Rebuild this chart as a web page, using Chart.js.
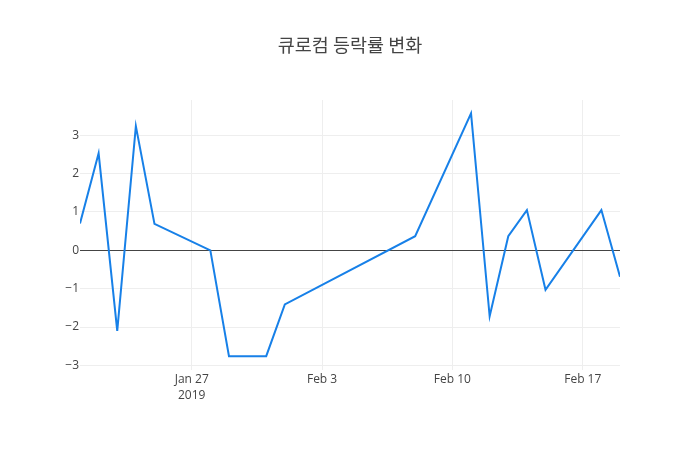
<!DOCTYPE html>
<html>
<head>
<meta charset="utf-8">
<script src="https://cdn.jsdelivr.net/npm/chart.js@4/dist/chart.umd.min.js"></script>
<style>
html,body{margin:0;padding:0;background:#fff;}
#wrap{width:700px;height:450px;position:relative;}
</style>
</head>
<body>
<div id="wrap"><canvas id="c" width="700" height="450"></canvas></div>
<script>
const titleText = '큐로컴 등락률 변화';
const dates = ['2019-01-21','2019-01-22','2019-01-23','2019-01-24','2019-01-25','2019-01-28','2019-01-29','2019-01-31','2019-02-01','2019-02-08','2019-02-11','2019-02-12','2019-02-13','2019-02-14','2019-02-15','2019-02-18','2019-02-19'];
const changes = [0.70, 2.53, -2.10, 3.24, 0.69, 0.00, -2.76, -2.76, -1.41, 0.37, 3.57, -1.72, 0.37, 1.05, -1.03, 1.05, -0.69];
const xTickDates = ['2019-01-27','2019-02-03','2019-02-10','2019-02-17'];
const xTickLabels = [['Jan 27','2019'],['Feb 3'],['Feb 10'],['Feb 17']];
const yTicks = [-3,-2,-1,0,1,2,3];
const yRange = [-3.12, 3.92];

const DAY = 86400000;
const base = Date.parse(dates[0] + 'T00:00:00Z');
const toDay = s => (Date.parse(s + 'T00:00:00Z') - base) / DAY;
const pts = dates.map((d,i) => ({x: toDay(d), y: changes[i]}));
const xTickVals = xTickDates.map(toDay);
const xMin = 0, xMax = toDay(dates[dates.length-1]);

const FONT = "'Open Sans', 'Noto Sans', sans-serif";

new Chart(document.getElementById('c'), {
  type: 'line',
  data: {
    datasets: [{
      data: pts,
      borderColor: 'rgb(23,128,232)',
      borderWidth: 2,
      pointRadius: 0,
      tension: 0,
      fill: false
    }]
  },
  options: {
    responsive: false,
    animation: false,
    layout: {padding: 0},
    plugins: {
      legend: {display: false},
      tooltip: {enabled: false},
      title: {
        display: true,
        text: titleText,
        color: '#444',
        font: {family: "'Noto Sans CJK KR', " + FONT, size: 18.5, weight: 'normal', lineHeight: 1.2},
        padding: {top: 34, bottom: 43.8}
      }
    },
    scales: {
      x: {
        type: 'linear',
        min: xMin,
        max: xMax,
        afterBuildTicks: s => { s.ticks = xTickVals.map(v => ({value: v})); },
        afterFit: s => { s.height = 80; },
        grid: {color: '#eee', lineWidth: 1, drawTicks: false},
        border: {display: false},
        ticks: {
          autoSkip: false,
          maxRotation: 0,
          padding: 1,
          color: '#444',
          font: {family: FONT, size: 12, lineHeight: 1.35},
          callback: (v) => { const i = xTickVals.indexOf(v); return i >= 0 ? xTickLabels[i] : ''; }
        }
      },
      y: {
        type: 'linear',
        position: 'left',
        min: yRange[0],
        max: yRange[1],
        afterBuildTicks: s => { s.ticks = yTicks.map(v => ({value: v})); },
        afterFit: s => { s.width = 80; },
        grid: {
          color: c => (c.tick && c.tick.value === 0) ? '#444' : '#eee',
          lineWidth: 1,
          drawTicks: false
        },
        border: {display: false},
        ticks: {
          padding: 1,
          color: '#444',
          font: {family: FONT, size: 12},
          callback: v => (v < 0 ? '\u2212' + Math.abs(v) : String(v))
        }
      },
      yRight: {
        type: 'linear',
        position: 'right',
        display: true,
        min: yRange[0],
        max: yRange[1],
        afterFit: s => { s.width = 80; },
        grid: {display: false, drawOnChartArea: false},
        border: {display: false},
        ticks: {display: false}
      }
    }
  }
});
</script>
</body>
</html>
